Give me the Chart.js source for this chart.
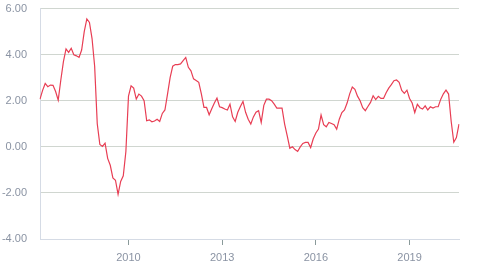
<!DOCTYPE html>
<html>
<head>
<meta charset="utf-8">
<script src="https://cdn.jsdelivr.net/npm/chart.js@4.4.1/dist/chart.umd.min.js"></script>
<style>
html,body{margin:0;padding:0;background:#fff;}
#wrap{width:477px;height:270px;position:relative;}
</style>
</head>
<body>
<div id="wrap"><canvas id="c" width="477" height="270"></canvas></div>
<script>
// Monthly series, March 2007 .. August 2020
const startYear = 2007;
const startMonth = 3;
const values = [
  2.07, 2.45, 2.75, 2.61, 2.68, 2.67, 2.4, 2.03, 2.9, 3.7,
  4.25, 4.1, 4.28, 4.0, 3.95, 3.88, 4.2, 5.0, 5.55, 5.4,
  4.7, 3.5, 1.0, 0.1, 0.02, 0.16, -0.5, -0.8, -1.35, -1.45,
  -2.06, -1.5, -1.26, -0.2, 2.2, 2.65, 2.55, 2.07, 2.29, 2.2,
  2.0, 1.13, 1.17, 1.09, 1.12, 1.2, 1.1, 1.45, 1.6, 2.29,
  3.0, 3.5, 3.57, 3.57, 3.6, 3.74, 3.88, 3.45, 3.3, 2.95,
  2.88, 2.8, 2.3, 1.71, 1.71, 1.39, 1.65, 1.9, 2.12, 1.74,
  1.7, 1.64, 1.6, 1.85, 1.3, 1.1, 1.5, 1.75, 1.97, 1.5,
  1.2, 0.99, 1.3, 1.5, 1.57, 1.06, 1.8, 2.07, 2.07, 2.0,
  1.85, 1.68, 1.68, 1.68, 0.99, 0.48, -0.06, 0.0, -0.12, -0.2,
  0.0, 0.15, 0.19, 0.19, -0.03, 0.35, 0.6, 0.77, 1.38, 0.96,
  0.87, 1.06, 1.01, 0.96, 0.77, 1.2, 1.49, 1.6, 1.9, 2.3,
  2.6, 2.5, 2.2, 2.0, 1.7, 1.57, 1.75, 1.93, 2.22, 2.05,
  2.19, 2.1, 2.1, 2.35, 2.55, 2.7, 2.87, 2.9, 2.8, 2.45,
  2.32, 2.46, 2.1, 1.9, 1.49, 1.85, 1.7, 1.64, 1.78, 1.6,
  1.74, 1.68, 1.74, 1.74, 2.07, 2.3, 2.46, 2.29, 1.1, 0.2,
  0.4, 0.99
];
const tickYears = ['2010', '2013', '2016', '2019'];
const yTicks = [-4, -2, 0, 2, 4, 6];

const categories = [];
for (let i = 0; i < values.length; i++) {
  const m = startMonth - 1 + i;
  const y = startYear + Math.floor(m / 12);
  const mm = (m % 12) + 1;
  categories.push(y + '-' + (mm < 10 ? '0' + mm : '' + mm));
}

const labelColor = '#8a93a3';
const fontDef = { family: '"Liberation Sans", Arial, sans-serif', size: 11 };

new Chart(document.getElementById('c'), {
  type: 'line',
  data: {
    labels: categories,
    datasets: [{
      data: values,
      borderColor: 'rgb(232,62,84)',
      borderWidth: 1.2,
      pointRadius: 0,
      tension: 0,
      fill: false
    }]
  },
  options: {
    responsive: false,
    animation: false,
    layout: { padding: { left: 2, right: 18, top: 0, bottom: 0 } },
    plugins: { legend: { display: false }, tooltip: { enabled: false } },
    scales: {
      x: {
        type: 'category',
        offset: false,
        afterBuildTicks: (axis) => {
          axis.ticks = axis.ticks.filter(t => {
            const lab = categories[t.value];
            return lab.endsWith('-01') && tickYears.includes(lab.slice(0, 4));
          });
        },
        afterFit: (s) => { s.height = 31; },
        ticks: {
          autoSkip: false,
          maxRotation: 0,
          padding: 6,
          color: labelColor,
          font: fontDef,
          callback: function(v) { return categories[v].slice(0, 4); }
        },
        grid: {
          drawOnChartArea: false,
          tickLength: 6,
          color: '#8a9a9a'
        },
        border: { display: true, color: '#d5dbe5' }
      },
      y: {
        min: -4,
        max: 6,
        afterBuildTicks: (axis) => { axis.ticks = yTicks.map(v => ({ value: v })); },
        afterFit: (s) => { s.width = 38; },
        ticks: {
          padding: 2,
          color: labelColor,
          font: fontDef,
          callback: (v) => Number(v).toFixed(2)
        },
        grid: {
          drawTicks: true,
          tickLength: 11,
          tickColor: 'rgba(0,0,0,0)',
          color: '#d0d6d0',
          lineWidth: 1
        },
        border: { display: true, color: '#d5dbe5' }
      }
    }
  }
});
</script>
</body>
</html>
